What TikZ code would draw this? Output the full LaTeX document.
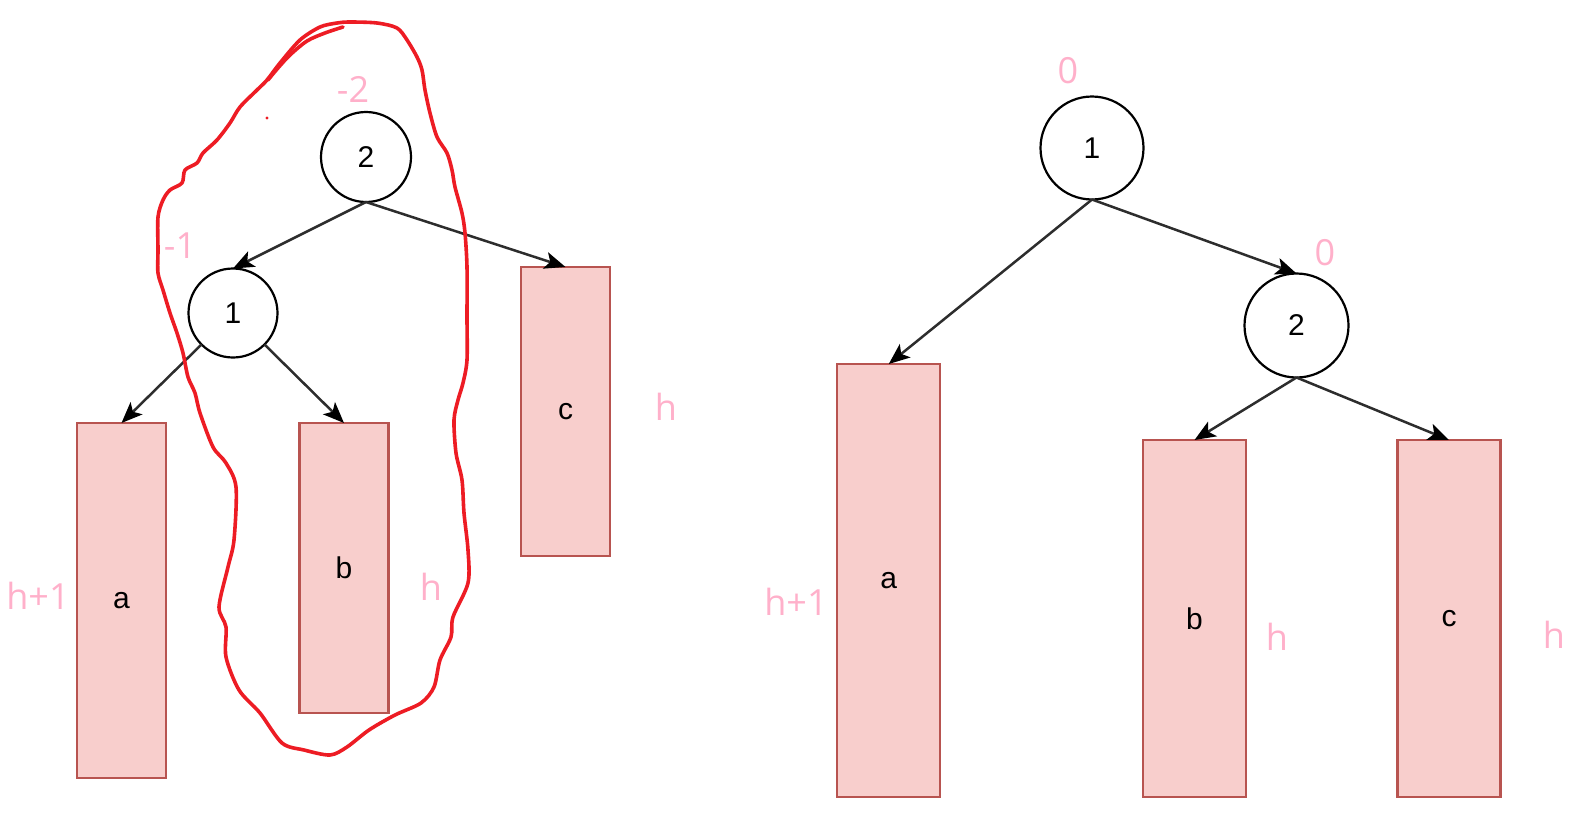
\documentclass[tikz,border=0pt]{standalone}
\usepackage{fontspec}
\setmainfont{Liberation Sans}
\newfontfamily\pinkfont{Open Sans}
\usetikzlibrary{arrows.meta}
\definecolor{boxfill}{HTML}{F8CECC}
\definecolor{boxline}{HTML}{B85450}
\definecolor{lblpink}{RGB}{255,176,202}
\definecolor{loopred}{RGB}{237,28,36}
\definecolor{edgecol}{RGB}{45,45,45}
\begin{document}
\begin{tikzpicture}[x=1pt,y=-1pt,
  circ/.style={circle,draw=black,line width=2.2pt,minimum size=#1,inner sep=0pt,outer sep=0pt,font=\fontsize{30}{32}\selectfont},
  box/.style={draw=boxline,fill=boxfill,line width=2.2pt,inner sep=0pt,outer sep=0pt,font=\fontsize{30}{32}\selectfont},
  lbl/.style={text=lblpink,inner sep=0pt,font=\pinkfont\fontsize{36}{38}\selectfont},
  conn/.style={draw=edgecol,line width=2.5pt,-{Stealth[length=21pt,width=17pt,inset=5pt,color=black,fill=black]}},
  redloop/.style={draw=loopred,line width=3.6pt,line cap=round,line join=round}
]
\useasboundingbox (0,0) rectangle (1590,835);

% ---------- left tree ----------
\node[circ=90pt] (L2) at (366,157) {2};
\node[circ=89pt] (L1) at (233,313) {1};
\node[box,minimum width=89pt,minimum height=355pt] (La) at (121.5,600.5) {a};
\node[box,minimum width=89pt,minimum height=290pt] (Lb) at (344,568) {b};
\node[box,minimum width=89pt,minimum height=289pt] (Lc) at (565.5,411.5) {c};

\draw[conn] (L2.south) -- (L1.north);
\draw[conn] (L2.south) -- (Lc.north);
\draw[conn] (L1.-135) -- (La.north);
\draw[conn] (L1.-45) -- (Lb.north);

\node[lbl] (lm2) at (353,89) {-2};
\node[lbl] (lm1) at (180,246) {-1};
\node[lbl] (lha) at (38,596) {h+1};
\node[lbl] (lhb) at (431,587) {h};
\node[lbl] (lhc) at (666,407) {h};

% red freehand loop
\draw[redloop] plot[smooth cycle,tension=0.5] coordinates {
(337,23) (350,22) (377,23) (397,28) (407,40) (417,57) (422,70) (425,90)
(430,113) (437,137) (447,153) (452,170) (455,187) (462,213) (465,233)
(467,267) (467,317) (467,360) (463,383) (458,400) (454,420) (456,453)
(462,480) (464,513) (468,550) (468,583) (453,617) (451,637) (440,660)
(434,687) (421,703) (395,715) (369,730) (347,747) (330,755) (304,750)
(282,743) (260,713) (239,690) (226,657) (226,627) (219,607) (228,567)
(234,540) (236,487) (226,463) (213,447) (200,413) (195,393) (188,377)
(183,353) (177,333) (170,313) (163,290) (158,273) (158,250) (158,217)
(163,200) (170,190) (182,183) (185,170) (197,163) (203,153) (217,140)
(230,123) (240,107) (257,90) (267,80) (280,63) (300,40) (320,27)};
\draw[redloop] plot[smooth,tension=0.5] coordinates {(343,27) (325,33) (307,41) (290,55) (278,68) (268,80)};
\fill[loopred] (267,118) circle (1.6pt);

% ---------- right tree ----------
\node[circ=103pt] (R1) at (1092,148) {1};
\node[circ=104pt] (R2) at (1296.5,325.5) {2};
\node[box,minimum width=103pt,minimum height=433pt] (Ra) at (888.75,580.5) {a};
\node[box,minimum width=103pt,minimum height=357pt] (Rb) at (1194.5,618.5) {b};
\node[box,minimum width=103pt,minimum height=357pt] (Rc) at (1449,618.5) {c};

\draw[conn] (R1.south) -- (Ra.north);
\draw[conn] (R1.south) -- (R2.north);
\draw[conn] (R2.south) -- (Rb.north);
\draw[conn] (R2.south) -- (Rc.north);

\node[lbl] (r0a) at (1068,71) {0};
\node[lbl] (r0b) at (1325,253) {0};
\node[lbl] (rha) at (796,602) {h+1};
\node[lbl] (rhb) at (1277,637) {h};
\node[lbl] (rhc) at (1554,635) {h};
\end{tikzpicture}
\end{document}
